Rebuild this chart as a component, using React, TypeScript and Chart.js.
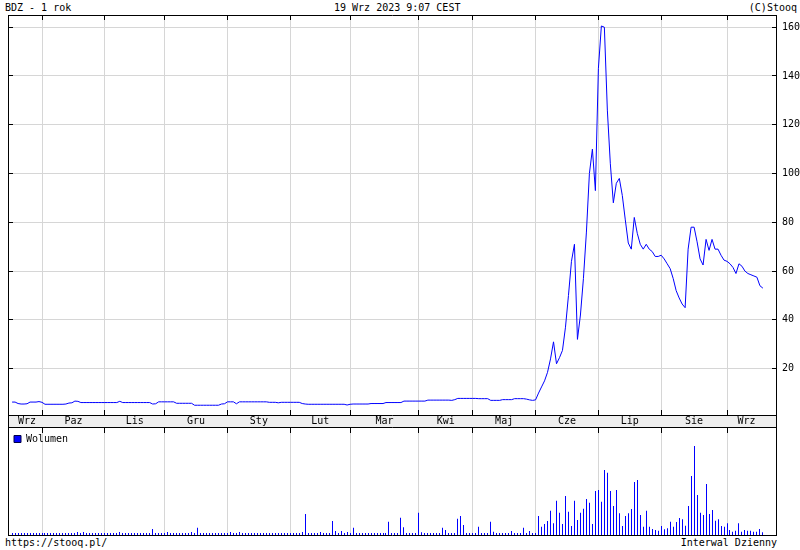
import React, { useEffect, useRef } from "react";
import { Chart, registerables } from "chart.js";
Chart.register(...registerables);

// Month labels on the axis band and the trading-day index of the first session of each month
const monthLabels = ["Wrz", "Paz", "Lis", "Gru", "Sty", "Lut", "Mar", "Kwi", "Maj", "Cze", "Lip", "Sie", "Wrz"];
const monthStarts = [10, 31, 51, 72, 93, 113, 136, 154, 175, 196, 217, 239];
const priceTicks = [20, 40, 60, 80, 100, 120, 140, 160];

// Daily close, 19 Sep 2022 .. 19 Sep 2023 (one value per session)
const closePrices = [
  6.3, 6.3, 5.7, 5.5, 5.5, 5.6, 6.3, 6.3, 6.3, 6.5,
  6.2, 5.4, 5.4, 5.4, 5.4, 5.4, 5.4, 5.4, 5.5, 5.9,
  6.0, 6.7, 6.6, 6.1, 6.1, 6.1, 6.1, 6.1, 6.1, 6.1,
  6.1, 6.1, 6.1, 6.1, 6.1, 6.1, 6.6, 6.1, 6.1, 6.1,
  6.1, 6.1, 6.1, 6.1, 6.1, 6.1, 6.1, 5.5, 5.6, 6.4,
  6.4, 6.4, 6.4, 6.4, 6.4, 5.8, 5.8, 5.8, 5.8, 5.8,
  5.8, 5.0, 5.0, 5.0, 5.0, 5.0, 5.0, 5.0, 5.0, 5.0,
  5.5, 5.6, 6.4, 6.4, 6.4, 5.6, 6.4, 6.4, 6.4, 6.4,
  6.4, 6.4, 6.4, 6.4, 6.4, 6.4, 6.2, 6.2, 6.2, 6.0,
  6.2, 6.2, 6.2, 6.2, 6.2, 6.2, 6.2, 5.7, 5.5, 5.4,
  5.4, 5.4, 5.4, 5.4, 5.4, 5.4, 5.4, 5.4, 5.4, 5.4,
  5.4, 5.4, 5.1, 5.4, 5.5, 5.5, 5.5, 5.5, 5.5, 5.5,
  5.7, 5.7, 5.7, 5.7, 5.7, 6.1, 6.1, 6.1, 6.1, 6.1,
  6.1, 6.7, 6.7, 6.7, 6.7, 6.7, 6.7, 6.7, 6.7, 7.1,
  7.1, 7.1, 7.1, 7.1, 7.1, 7.1, 7.1, 7.0, 7.3, 7.8,
  7.8, 7.8, 7.8, 7.8, 7.8, 7.8, 7.7, 7.7, 7.7, 7.7,
  7.0, 7.0, 7.0, 7.0, 7.3, 7.3, 7.3, 7.3, 7.7, 7.7,
  7.7, 7.7, 7.5, 7.2, 7.0, 7.2, 10, 12.5, 15, 18.5,
  24, 31, 22, 24.5, 27.5, 37, 50, 64, 71, 32,
  42, 57, 76, 100, 110, 93, 143, 160.5, 160, 126,
  104, 88, 96, 98, 91, 81, 71.5, 69, 82, 75.5,
  71, 69, 71, 69, 68, 66, 66, 66.5, 65, 63,
  61, 57, 52, 49, 46.5, 45, 69, 78, 78, 72,
  65, 62.5, 73, 68.5, 73, 69, 69, 66.5, 64.5, 64,
  63, 61.5, 59, 63, 62, 60, 59, 58.5, 58, 57.5,
  54, 53,
];

// Daily volume (relative units)
const volumes = [
  2, 2, 2, 2, 2, 2, 2, 2, 2, 2,
  2, 2, 2, 2, 2, 2, 2, 2, 2, 2,
  2, 2, 3, 2, 3, 2, 2, 2, 2, 2,
  2, 2, 2, 2, 2, 2, 3, 2, 2, 2,
  2, 2, 2, 2, 2, 2, 2, 6, 2, 2,
  2, 2, 3, 2, 2, 2, 2, 2, 2, 2,
  3, 2, 7.3, 2, 2, 2, 2, 2, 2, 2,
  2, 2, 2, 3, 2, 2, 3, 2, 2, 2,
  2, 2, 2, 2, 2, 2, 2, 2, 2, 2,
  2, 2, 2, 2, 2, 2, 2, 3, 21, 2,
  2, 2, 2, 3, 2, 2, 2, 14, 4, 2,
  4, 2, 3, 2, 7.3, 2, 2, 2, 2, 2,
  2, 2, 2, 2, 2, 2, 13.3, 2, 2, 2,
  17.3, 7.7, 2, 2, 2, 2, 22.3, 2.7, 2, 2,
  2, 2, 2, 2, 7.3, 5, 2, 2, 2, 16.3,
  19, 10, 2, 2, 2, 2, 8.3, 2, 2, 2,
  13.3, 3.3, 2, 2, 2, 2, 2, 4, 2, 2,
  2, 7.3, 2, 4, 2, 2, 19, 8.3, 11, 14,
  24.3, 11.7, 34.3, 22.3, 11, 39, 23.3, 9, 34.3, 15,
  22.3, 26.3, 36, 32.3, 11, 44, 45, 33.3, 65, 62.3,
  44, 29, 45, 21.7, 9, 19, 21.7, 26, 53, 55,
  20, 8.3, 24.3, 8.3, 6, 5, 4.3, 9, 5.7, 6.7,
  13.3, 8.3, 13, 17, 15.7, 9.3, 29, 59, 89, 40,
  22.3, 20, 51, 21, 25, 14.3, 15.7, 9, 8.3, 11.7,
  5, 3.3, 4.3, 11.7, 3.3, 5, 4.3, 4.3, 3.3, 3.3,
  6, 2.7,
];

const FONT = { family: "'DejaVu Sans Mono', monospace", size: 10 };
const GRID = "#d6d6d6";
const BLUE = "#0000ff";

const X_MIN = -1.367;
const X_MAX = 255.38;

function crisp(v: number) {
  return Math.round(v - 0.5) + 0.5;
}

export default function App() {
  const priceRef = useRef<HTMLCanvasElement>(null);
  const volRef = useRef<HTMLCanvasElement>(null);

  useEffect(() => {
    const n = closePrices.length;
    const labelPos = monthLabels.map((_, k) => {
      const s = k === 0 ? 0 : monthStarts[k - 1];
      const e = k < monthStarts.length ? monthStarts[k] : n;
      return (s + e) / 2;
    });
    const gridSet = new Set(monthStarts);
    const labelMap = new Map<number, string>(labelPos.map((p, k) => [p, monthLabels[k]]));

    const pricePlugin = {
      id: "priceFrame",
      beforeDraw(chart: any) {
        const { ctx, chartArea } = chart;
        ctx.save();
        ctx.fillStyle = "#eeeeee";
        ctx.fillRect(chartArea.left, chartArea.bottom, chartArea.right - chartArea.left, 13);
        ctx.restore();
      },
      afterDraw(chart: any) {
        const { ctx, chartArea } = chart;
        const { left, right, top, bottom } = chartArea;
        const xs = chart.scales.x;
        const ys = chart.scales.y;
        ctx.save();
        ctx.strokeStyle = "#000";
        ctx.lineWidth = 1;
        ctx.beginPath();
        ctx.moveTo(crisp(left), top);
        ctx.lineTo(crisp(left), bottom + 13);
        ctx.moveTo(left, crisp(top));
        ctx.lineTo(right + 1, crisp(top));
        ctx.moveTo(left, bottom + 12.5);
        ctx.lineTo(right + 1, bottom + 12.5);
        ctx.moveTo(crisp(right), bottom);
        ctx.lineTo(crisp(right), bottom + 13);
        monthStarts.forEach((m) => {
          const px = crisp(xs.getPixelForValue(m));
          ctx.moveTo(px, top);
          ctx.lineTo(px, top + 5);
          ctx.moveTo(px, bottom - 5);
          ctx.lineTo(px, bottom);
        });
        priceTicks.forEach((v) => {
          const py = crisp(ys.getPixelForValue(v));
          ctx.moveTo(left, py);
          ctx.lineTo(left + 5, py);
          ctx.moveTo(right - 4, py);
          ctx.lineTo(right, py);
        });
        ctx.stroke();
        ctx.restore();
      },
    };

    const priceChart = new Chart(priceRef.current as HTMLCanvasElement, {
      type: "line",
      data: {
        datasets: [
          {
            data: closePrices.map((v, i) => ({ x: i, y: v })),
            borderColor: BLUE,
            borderWidth: 1,
            pointRadius: 0,
            tension: 0,
            fill: false,
          },
        ],
      },
      options: {
        responsive: false,
        animation: false,
        events: [],
        layout: { padding: { left: 8, top: 15, right: 0, bottom: 0 } },
        plugins: { legend: { display: false }, tooltip: { enabled: false } },
        scales: {
          x: {
            type: "linear",
            min: X_MIN,
            max: X_MAX,
            afterBuildTicks: (s: any) => {
              s.ticks = [...monthStarts, ...labelPos]
                .sort((a, b) => a - b)
                .map((v) => ({ value: v }));
            },
            afterFit: (s: any) => {
              s.height = 13;
            },
            ticks: {
              autoSkip: false,
              maxRotation: 0,
              padding: 0,
              font: FONT,
              color: "#000",
              callback: (v: any) => labelMap.get(v) ?? "",
            },
            grid: {
              drawTicks: false,
              color: (c: any) => (c.tick && gridSet.has(c.tick.value) ? GRID : "rgba(0,0,0,0)"),
            },
            border: { display: true, color: "#000" },
          },
          y: {
            type: "linear",
            position: "right",
            min: 1,
            max: 165,
            afterBuildTicks: (s: any) => {
              s.ticks = priceTicks.map((v) => ({ value: v }));
            },
            afterFit: (s: any) => {
              s.width = 24;
            },
            ticks: { padding: 6, font: FONT, color: "#000" },
            grid: { drawTicks: false, color: GRID },
            border: { display: true, color: "#000" },
          },
        },
      } as any,
      plugins: [pricePlugin],
    });

    const volPlugin = {
      id: "volFrame",
      beforeDatasetsDraw(chart: any) {
        // snap the 1px bars onto whole device pixels so they stay sharp
        const meta = chart.getDatasetMeta(0);
        meta.data.forEach((el: any) => {
          el.x = Math.round(el.x - 0.5) + 0.5;
        });
      },
      afterDraw(chart: any) {
        const { ctx, chartArea } = chart;
        const { left, right, top, bottom } = chartArea;
        const xs = chart.scales.x;
        ctx.save();
        ctx.strokeStyle = "#000";
        ctx.lineWidth = 1;
        ctx.beginPath();
        ctx.moveTo(crisp(left), top);
        ctx.lineTo(crisp(left), bottom + 1);
        ctx.moveTo(crisp(right), top);
        ctx.lineTo(crisp(right), bottom + 1);
        ctx.moveTo(left, bottom + 0.5);
        ctx.lineTo(right + 1, bottom + 0.5);
        monthStarts.forEach((m) => {
          const px = crisp(xs.getPixelForValue(m));
          ctx.moveTo(px, top);
          ctx.lineTo(px, top + 5);
        });
        ctx.stroke();
        ctx.restore();
      },
    };

    const volChart = new Chart(volRef.current as HTMLCanvasElement, {
      type: "bar",
      data: {
        datasets: [
          {
            label: "Wolumen",
            data: volumes.map((v, i) => ({ x: i, y: v })),
            backgroundColor: BLUE,
            borderWidth: 0,
            barThickness: 1,
            inflateAmount: 0,
          },
        ],
      },
      options: {
        responsive: false,
        animation: false,
        events: [],
        layout: { padding: { left: 8, top: 0, right: 24, bottom: 1 } },
        plugins: {
          tooltip: { enabled: false },
          legend: {
            display: true,
            position: "chartArea",
            align: "start",
            labels: {
              font: FONT,
              color: "#000",
              boxWidth: 7,
              boxHeight: 7,
              padding: 6,
              generateLabels: () => [
                {
                  text: "Wolumen",
                  fillStyle: BLUE,
                  strokeStyle: "#000044",
                  lineWidth: 1,
                  hidden: false,
                  datasetIndex: 0,
                  fontColor: "#000",
                },
              ],
            },
          },
        },
        scales: {
          x: {
            type: "linear",
            min: X_MIN,
            max: X_MAX,
            offset: false,
            afterBuildTicks: (s: any) => {
              s.ticks = monthStarts.map((v) => ({ value: v }));
            },
            afterFit: (s: any) => {
              s.height = 0;
            },
            ticks: { display: false },
            grid: { drawTicks: false, color: GRID, offset: false },
            border: { display: false },
          },
          y: {
            display: false,
            min: 0,
            max: 107,
          },
        },
      } as any,
      plugins: [volPlugin],
    });

    return () => {
      priceChart.destroy();
      volChart.destroy();
    };
  }, []);

  const text: React.CSSProperties = {
    position: "absolute",
    fontFamily: "'DejaVu Sans Mono', monospace",
    fontSize: "10px",
    lineHeight: "13px",
    color: "#000",
    whiteSpace: "pre",
  };

  return (
    <div style={{ position: "fixed", left: 0, top: 0, width: 800, height: 550, background: "#fff", overflow: "hidden" }}>
      <div style={{ ...text, left: 5, top: 1 }}>BDZ - 1 rok</div>
      <div style={{ ...text, left: 334, top: 1 }}>19 Wrz 2023 9:07 CEST</div>
      <div style={{ ...text, right: 3, top: 1 }}>(C)Stooq</div>
      <canvas ref={priceRef} width={800} height={428} style={{ position: "absolute", left: 0, top: 0 }} />
      <canvas ref={volRef} width={800} height={108} style={{ position: "absolute", left: 0, top: 428 }} />
      <div style={{ ...text, left: 5, top: 536 }}>https://stooq.pl/</div>
      <div style={{ ...text, right: 23, top: 536 }}>Interwal Dzienny</div>
    </div>
  );
}
